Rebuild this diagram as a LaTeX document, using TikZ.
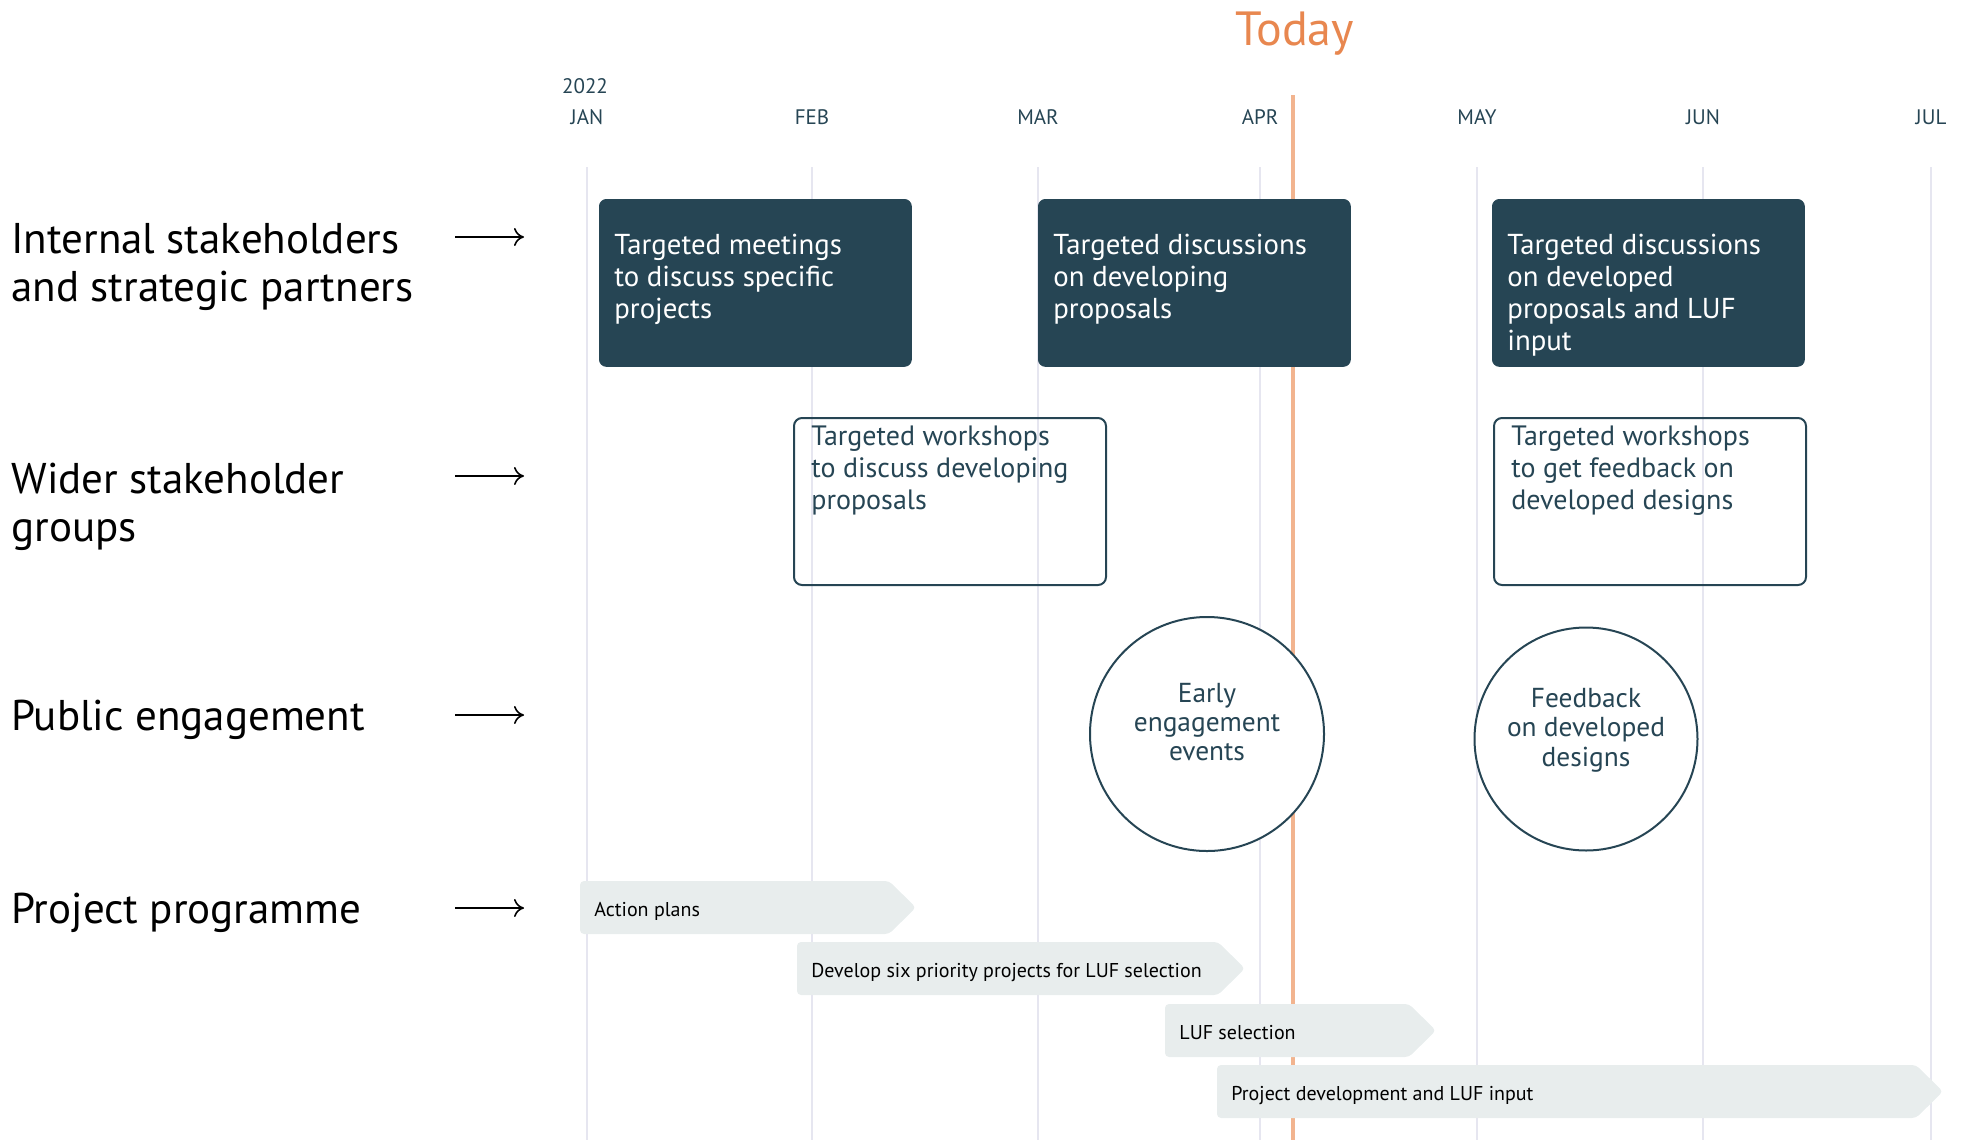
\documentclass[tikz,border=0pt]{standalone}
\usepackage{fontspec}
\setmainfont{PT Sans}
\usetikzlibrary{positioning,calc,arrows.meta}

\definecolor{slate}{HTML}{264554}
\definecolor{todayorange}{HTML}{E8874F}
\definecolor{todayline}{HTML}{F2B48F}
\definecolor{gridgray}{HTML}{E6E6F0}
\definecolor{barfill}{HTML}{E8EDED}

\begin{document}
\begin{tikzpicture}[x=0.5pt, y=-0.5pt,
    month/.style={text=slate, inner sep=0pt, font=\fontsize{10.5}{12}\selectfont},
    rowlabel/.style={anchor=north west, inner sep=0pt, align=left, font=\fontsize{21.5}{23.8}\selectfont},
    darkbox/.style={anchor=north west, fill=slate, draw=slate, rounded corners=3.5pt, minimum width=156pt, minimum height=83.5pt, inner sep=0pt},
    outlinebox/.style={anchor=north west, draw=slate, line width=1pt, rounded corners=4pt, minimum width=156pt, minimum height=83.5pt, inner sep=0pt},
    boxtext/.style={anchor=north west, inner sep=0pt, align=left, font=\fontsize{14.4}{16}\selectfont},
    outlinetext/.style={boxtext, text=slate, font=\fontsize{14}{16}\selectfont},
    event/.style={circle, draw=slate, fill=white, line width=1pt, inner sep=0pt},
    eventtext/.style={text=slate, align=center, inner sep=0pt, font=\fontsize{13.7}{14.7}\selectfont},
    bartext/.style={anchor=base west, inner sep=0pt, font=\fontsize{10}{12}\selectfont},
    rowarrow/.style={-{To[length=5pt,width=9pt]}, line width=0.8pt}
  ]
    \useasboundingbox (0,0) rectangle (1964,1140);

    % Months
    \foreach \x/\m in {587/JAN,812/FEB,1038/MAR,1260/APR,1477/MAY,1703/JUN,1931/JUL} {
        \draw [gridgray, line width=0.6pt] (\x,167) -- (\x,1140);
        \node [month] (m\m) at (\x,117.5) {\m};
    }
    \node [month] (year) at (585,86.5) {2022};

    % Today
    \draw [todayline, line width=2pt] (1293,95) -- (1293,1140);
    \node [todayorange, anchor=base, inner sep=0pt, font=\fontsize{24}{29}\selectfont] (today) at (1295,45) {Today};

    % Rows
    \node [rowlabel] (internal) at (11,223) {Internal stakeholders\\and strategic partners};
    \node [rowlabel] (wider) at (11,463) {Wider stakeholder\\groups};
    \node [rowlabel] (public) at (11,700) {Public engagement};
    \node [rowlabel] (programme) at (11,893) {Project programme};
    \foreach \i/\y in {1/237,2/476,3/715,4/908} {
        \coordinate (arr\i s) at (455,\y);
        \coordinate (arr\i e) at (524,\y);
        \draw [rowarrow] (arr\i s) -- (arr\i e);
    }

    % Internal stakeholders
    \node [darkbox] (meet) at (599,199) {};
    \node [darkbox] (disc) at (1038,199) {};
    \node [darkbox] (disclate) at (1492,199) {};
    \node [boxtext, white] (meettxt) at ([shift={(15,35)}]meet.north west) {Targeted meetings\\to discuss specific\\projects};
    \node [boxtext, white] (disctxt) at ([shift={(15,35)}]disc.north west) {Targeted discussions\\on developing\\proposals};
    \node [boxtext, white] (disclatetxt) at ([shift={(15,35)}]disclate.north west) {Targeted discussions\\on developed\\proposals and LUF\\input};

    % Wider stakeholders
    \node [outlinebox] (work) at (793,417) {};
    \node [outlinebox] (worklate) at (1493,417) {};
    \node [outlinetext] (worktxt) at ([shift={(18,8)}]work.north west) {Targeted workshops\\to discuss developing\\proposals};
    \node [outlinetext] (worklatetxt) at ([shift={(18,8)}]worklate.north west) {Targeted workshops\\to get feedback on\\developed designs};

    % Public engagement
    \node [event, minimum size=117pt] (early) at (1207,734) {};
    \node [event, minimum size=111.5pt] (feedback) at (1586,739) {};
    \node [eventtext] (earlytxt) at (1207,722) {Early\\engagement\\events};
    \node [eventtext] (feedbacktxt) at (1586,730) {Feedback\\on developed\\designs};

    % Project programme
    \foreach \i/\xa/\xb/\yt/\txt in {1/580/889/881/Action plans,
            2/797/1218/942/Develop six priority projects for LUF selection,
            3/1165/1409/1004/LUF selection,
            4/1217/1916/1065/Project development and LUF input} {
        \fill [barfill, rounded corners=2pt] (\xa,\yt) -- (\xb,\yt) -- (\xb+27,\yt+26.5) -- (\xb,\yt+53) -- (\xa,\yt+53) -- cycle;
        \node [bartext] (bar\i) at (\xa+14,\yt+35) {\txt};
    }
\end{tikzpicture}
\end{document}
